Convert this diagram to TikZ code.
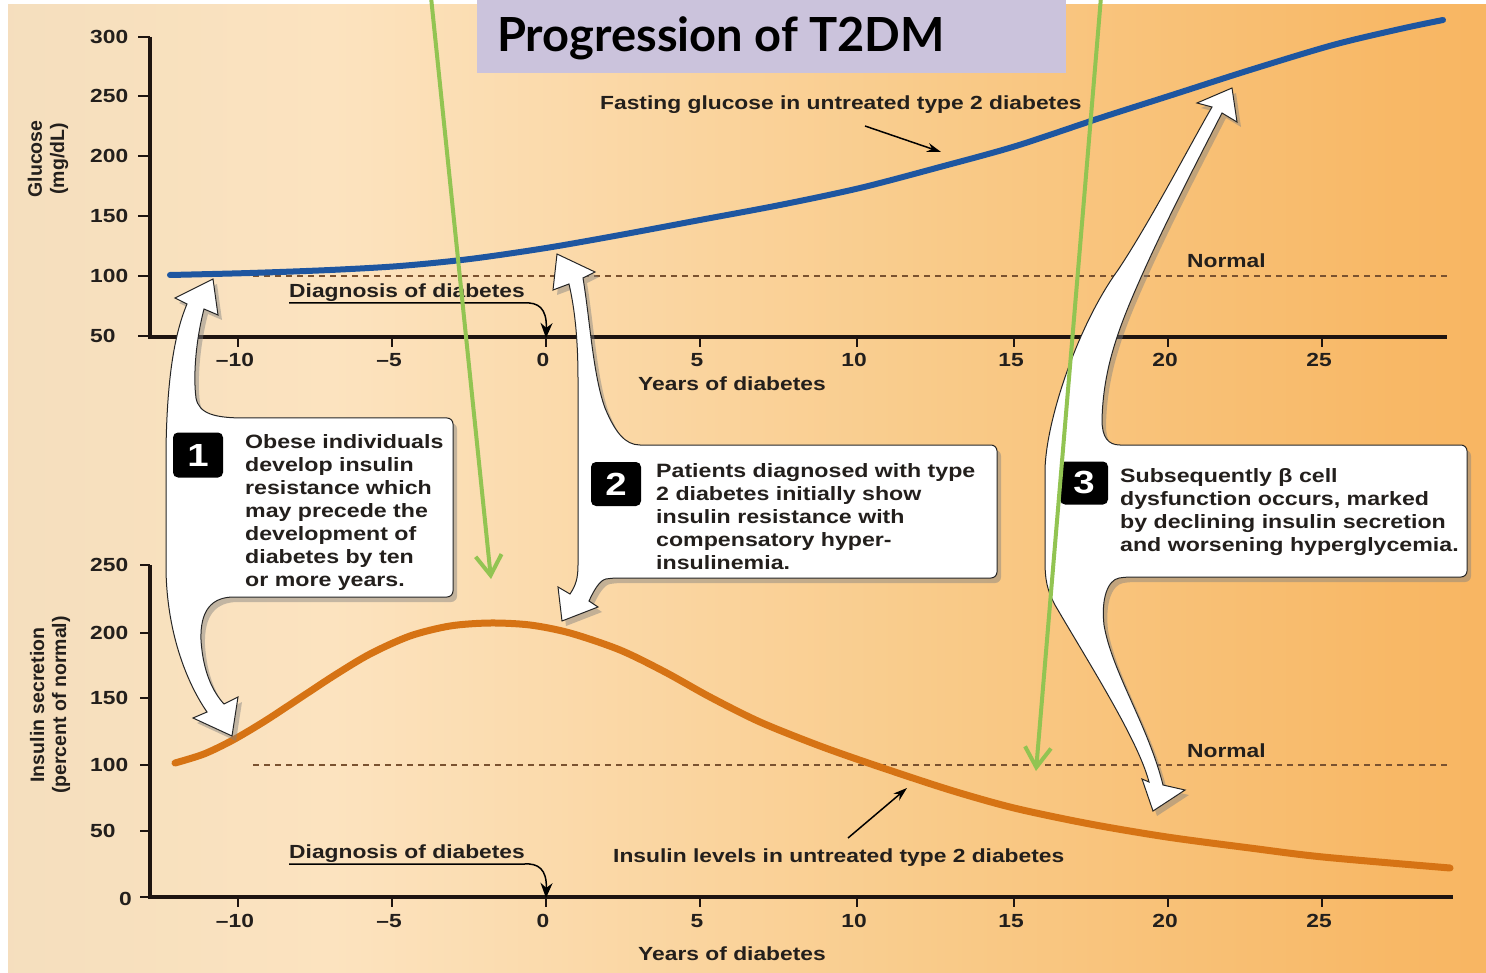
\documentclass[tikz,border=0pt]{standalone}
\usepackage{fontspec}
\usetikzlibrary{arrows.meta,shadows}
\newfontfamily\cf{Liberation Sans}[FakeStretch=1.2]
\newfontfamily\cfr{Liberation Sans}
\newfontfamily\tf{Lato}
\definecolor{bgA}{HTML}{E4D4BB}
\definecolor{bgB}{HTML}{FCE3BF}
\definecolor{bgC}{HTML}{F9CB8A}
\definecolor{bgD}{HTML}{F8B866}
\definecolor{bgE}{HTML}{F6A445}
\definecolor{titlebg}{HTML}{CBC3DC}
\definecolor{txt}{HTML}{231F1C}
\definecolor{axc}{HTML}{1E1410}
\definecolor{dashc}{HTML}{7A5230}
\definecolor{glublue}{HTML}{1E56A0}
\definecolor{insorange}{HTML}{D67314}
\definecolor{grn}{HTML}{92C452}
\pgfdeclarehorizontalshading{bgsh}{100bp}{color(0bp)=(bgA); color(36bp)=(bgB); color(56bp)=(bgC); color(72bp)=(bgD); color(100bp)=(bgE)}
\begin{document}
\begin{tikzpicture}[x=1pt,y=-1pt,
  lab/.style={font=\cf\bfseries\fontsize{19}{22}\selectfont, text=txt, inner sep=0pt},
  ylab/.style={font=\cf\bfseries\fontsize{19}{22}\selectfont, text=txt, inner sep=0pt, anchor=west},
  xlab/.style={font=\cf\bfseries\fontsize{19}{22}\selectfont, text=txt, inner sep=0pt, anchor=center},
  ticks/.style={line width=2pt, draw=axc},
  axisline/.style={line width=3.5pt, draw=axc},
  normline/.style={dash pattern=on 6pt off 5pt, line width=1.8pt, draw=dashc},
  callout/.style={fill=white, draw=black!85, line width=1pt, drop shadow={opacity=0.45, shadow xshift=4pt, shadow yshift=-5pt}},
  badge/.style={fill=black, rounded corners=5pt, inner sep=0pt, text=white, font=\cf\bfseries\fontsize{32}{32}\selectfont},
  ctext/.style={font=\cf\bfseries\fontsize{19.3}{23}\selectfont, text=txt, align=left, inner sep=0pt, anchor=north west},
  greenarrow/.style={draw=grn, line width=4pt, -{Straight Barb[length=20pt,width=26pt]}},
  thinarrow/.style={draw=black, line width=1.5pt, -{Stealth[length=14pt,width=9pt]}},
  diagarrow/.style={draw=black, line width=1.5pt, -{Stealth[length=15pt,width=12pt]}}
]
\useasboundingbox (0,0) rectangle (1486,973);
\fill[white] (0,0) rectangle (1486,973);
\shade[shading=bgsh] (8,5) rectangle (1486,973);

% title
\fill[titlebg] (477,0) rectangle (1066,73);
\node[font=\tf\bfseries\fontsize{47}{47}\selectfont, anchor=base west, inner sep=0pt, text=black] (title) at (497,52) {Progression of T2DM};

% ===== top chart =====
\draw[normline] (253,276) -- (1447,276);
\draw[axisline] (150,37) -- (150,337) -- (1447,337);
\foreach \yy/\lb in {37/300,96/250,156/200,216/150,276/100,336/50}{
  \draw[ticks] (138,\yy) -- (150,\yy);
  \node[ylab] at (90,\yy) {\lb};
}
\foreach \xx/\lb in {238/{–10},392/{–5},546/0,700/5,857/10,1014/15,1168/20,1322/25}{
  \draw[ticks] (\xx,337) -- (\xx,347);
  \node[xlab] at (\xx-3,360) {\lb};
}
\node[rotate=90, align=center, font=\cfr\bfseries\fontsize{19.5}{22}\selectfont, text=txt, inner sep=0pt] (glab) at (48,159) {Glucose\\(mg/dL)};
\node[lab, anchor=base] (yrs1) at (732,391) {Years of diabetes};
\node[lab, anchor=base west] (norm1) at (1187,268) {Normal};
\draw[glublue, line width=6pt, line cap=round] plot[smooth, tension=0.5] coordinates {(170,275) (250,273) (330,270) (400,266) (470,259) (546,248) (620,235) (700,220) (780,205) (860,188) (940,167) (1016,146) (1100,118) (1172,95) (1250,70) (1333,45) (1400,29) (1443,20)};
\node[lab, anchor=base west] (fg) at (600,110) {Fasting glucose in untreated type 2 diabetes};
\coordinate (fgA) at (865,126);
\coordinate (fgB) at (941,152);
\draw[thinarrow] (fgA) -- (fgB);
\node[lab, anchor=base west] (diag1) at (289,298) {Diagnosis of diabetes};
\coordinate (d1a) at (289,303);
\coordinate (d1b) at (524,303);
\coordinate (d1c) at (546,338);
\draw[diagarrow] (d1a) -- (d1b) .. controls (538,302) and (547,308) .. (d1c);

% ===== bottom chart =====
\draw[normline] (253,765) -- (1447,765);
\draw[axisline] (150,565) -- (150,897) -- (1453,897);
\foreach \yy/\lb in {565/250,633/200,698/150,765/100,831/50}{
  \draw[ticks] (140,\yy) -- (150,\yy);
  \node[ylab] at (90,\yy) {\lb};
}
\draw[ticks] (140,897) -- (150,897);
\node[ylab] at (119,899) {0};
\foreach \xx/\lb in {238/{–10},392/{–5},546/0,700/5,857/10,1014/15,1168/20,1322/25}{
  \draw[ticks] (\xx,897) -- (\xx,907);
  \node[xlab] at (\xx-3,921) {\lb};
}
\node[rotate=90, align=center, font=\cfr\bfseries\fontsize{19.5}{22}\selectfont, text=txt, inner sep=0pt] (ilab) at (50,705) {Insulin secretion\\(percent of normal)};
\node[lab, anchor=base] (yrs2) at (732,960) {Years of diabetes};
\node[lab, anchor=base west] (norm2) at (1187,757) {Normal};
\draw[insorange, line width=7pt, line cap=round] plot[smooth, tension=0.5] coordinates {(175,763) (204,754) (233,740) (265,721) (300,698) (335,675) (370,654) (410,636) (450,626) (490,623) (530,625) (570,633) (620,650) (665,672) (710,697) (760,722) (820,746) (877,766) (950,790) (1014,808) (1090,824) (1167,837) (1250,848) (1323,857) (1450,868)};
\node[lab, anchor=base west] (il) at (613,862) {Insulin levels in untreated type 2 diabetes};
\coordinate (ilA) at (848,838);
\coordinate (ilB) at (907,788);
\draw[thinarrow] (ilA) -- (ilB);
\node[lab, anchor=base west] (diag2) at (289,858) {Diagnosis of diabetes};
\coordinate (d2a) at (289,864);
\coordinate (d2b) at (524,864);
\coordinate (d2c) at (546,898);
\draw[diagarrow] (d2a) -- (d2b) .. controls (538,863) and (547,869) .. (d2c);

% ===== callouts =====
\draw[callout] (245,418) [rounded corners=6pt] -- (453,418) -- (453,597) -- (240,597) [sharp corners]
  .. controls (212,597) and (200,610) .. (201,640)
  .. controls (203,672) and (213,692) .. (224,704)
  -- (238,697) -- (232,736) -- (193,718) -- (207,712)
  .. controls (185,680) and (167,630) .. (166,570)
  -- (166,450)
  .. controls (167,380) and (174,335) .. (187,304)
  -- (175,298) -- (213,279) -- (218,315) -- (204,309)
  .. controls (196,340) and (193,375) .. (196,398)
  .. controls (199,414) and (215,418) .. (245,418) -- cycle;
\node[badge, minimum width=50pt, minimum height=45pt] (b1) at (198,455) {1};
\node[ctext] (t1) at (245,434) {Obese individuals\\develop insulin\\resistance which\\may precede the\\development of\\diabetes by ten\\or more years.};

\draw[callout] (640,445) [rounded corners=6pt] -- (997,445) -- (997,578) -- (612,578) [sharp corners]
  .. controls (600,580) and (594,590) .. (589,601)
  -- (598,607) -- (562,621) -- (558,587) -- (570,594)
  .. controls (576,585) and (578,578) .. (578,565)
  -- (578,380)
  .. controls (578,340) and (575,310) .. (569,284)
  -- (553,290) -- (557,254) -- (595,272) -- (583,278)
  .. controls (590,320) and (593,375) .. (605,408)
  .. controls (615,432) and (625,445) .. (640,445) -- cycle;
\node[badge, minimum width=50pt, minimum height=44pt] (b2) at (616,484) {2};
\node[ctext] (t2) at (656,463) {Patients diagnosed with type\\2 diabetes initially show\\insulin resistance with\\compensatory hyper-\\insulinemia.};

\draw[callout] (1120,445) [rounded corners=6pt] -- (1467,445) -- (1467,577) -- (1125,577) [sharp corners]
  .. controls (1108,580) and (1101,598) .. (1104,625)
  .. controls (1112,672) and (1148,725) .. (1163,785)
  -- (1185,790) -- (1153,811) -- (1142,779) -- (1149,782)
  .. controls (1138,740) and (1090,665) .. (1055,605)
  .. controls (1047,590) and (1045,580) .. (1045,560)
  -- (1045,470)
  .. controls (1046,420) and (1078,325) .. (1118,270)
  .. controls (1150,222) and (1190,145) .. (1212,107)
  -- (1197,103) -- (1232,88) -- (1237,122) -- (1222,113)
  .. controls (1198,160) and (1160,232) .. (1132,298)
  .. controls (1112,345) and (1103,380) .. (1102,420)
  .. controls (1102,437) and (1108,445) .. (1120,445) -- cycle;
\node[badge, minimum width=48pt, minimum height=43pt] (b3) at (1084,483) {3};
\node[ctext] (t3) at (1120,468) {Subsequently β cell\\dysfunction occurs, marked\\by declining insulin secretion\\and worsening hyperglycemia.};

% ===== green arrows =====
\coordinate (g1s) at (431,-3);
\coordinate (g1e) at (491,579);
\coordinate (g2s) at (1101,-3);
\coordinate (g2e) at (1036,771);
\draw[greenarrow] (g1s) -- (g1e);
\draw[greenarrow] (g2s) -- (g2e);
\end{tikzpicture}
\end{document}
